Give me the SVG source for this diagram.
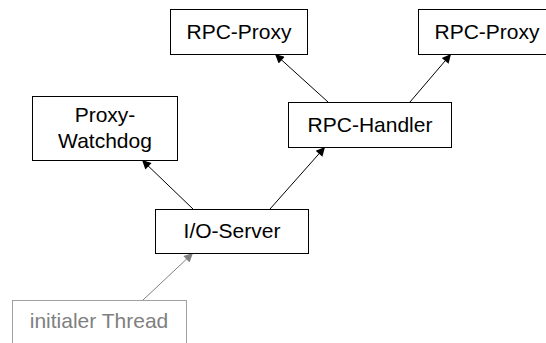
<svg xmlns="http://www.w3.org/2000/svg" width="546" height="343" viewBox="0 0 546 343">
<style>
.box{fill:#fff;stroke:#000;stroke-width:1}
.gbox{fill:#fff;stroke:#a0a0a0;stroke-width:1}
text{font-family:"Liberation Sans",Arial,sans-serif;font-size:21px;text-anchor:middle;fill:#000}
.gt{fill:#808080}
.c{stroke:#000;stroke-width:1;fill:none;marker-end:url(#ah)}
.gc{stroke:#808080;stroke-width:1;fill:none;marker-end:url(#gah)}
</style>
<defs>
<marker id="ah" viewBox="0 0 10 10" refX="10" refY="5" markerWidth="11" markerHeight="9" markerUnits="userSpaceOnUse" orient="auto"><path d="M0,0L10,5L0,10z" fill="#000"/></marker>
<marker id="gah" viewBox="0 0 10 10" refX="10" refY="5" markerWidth="11" markerHeight="9" markerUnits="userSpaceOnUse" orient="auto"><path d="M0,0L10,5L0,10z" fill="#808080"/></marker>
</defs>
<g id="connectors">
<line class="c" x1="193" y1="209" x2="142" y2="160"/>
<line class="c" x1="270" y1="209" x2="325" y2="147"/>
<line class="c" x1="328" y1="102" x2="275" y2="54"/>
<line class="c" x1="410" y1="102" x2="451" y2="54"/>
<line class="gc" x1="143" y1="300" x2="193" y2="253"/>
</g>
<g id="rpc-proxy-1"><rect class="box" x="170.5" y="9.5" width="137" height="45"/><text x="239" y="39">RPC-Proxy</text></g>
<g id="rpc-proxy-2"><rect class="box" x="418.5" y="9.5" width="137" height="45"/><text x="487" y="39">RPC-Proxy</text></g>
<g id="rpc-handler"><rect class="box" x="288.5" y="102.5" width="163" height="45"/><text x="370" y="132">RPC-Handler</text></g>
<g id="proxy-watchdog"><rect class="box" x="32.5" y="96.5" width="145" height="64"/><text x="105" y="122">Proxy-</text><text x="105" y="148">Watchdog</text></g>
<g id="io-server"><rect class="box" x="155.5" y="209.5" width="153" height="44"/><text x="232" y="238">I/O-Server</text></g>
<g id="initialer-thread"><rect class="gbox" x="12.5" y="300.5" width="174" height="45"/><text class="gt" x="99" y="328">initialer Thread</text></g>
</svg>
